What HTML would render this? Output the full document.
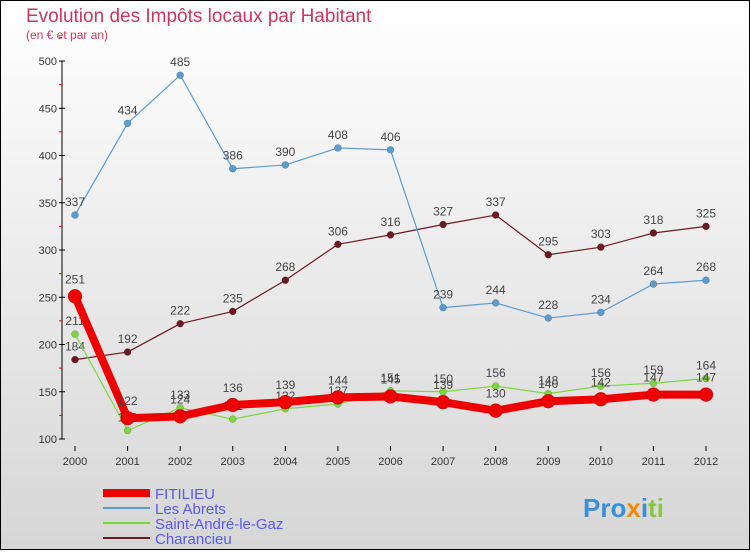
<!DOCTYPE html>
<html><head><meta charset="utf-8"><style>
html,body{margin:0;padding:0;}
body{width:750px;height:550px;overflow:hidden;font-family:"Liberation Sans",sans-serif;}
</style></head><body>
<svg id="chart" width="750" height="550" xmlns="http://www.w3.org/2000/svg">
<defs><linearGradient id="bg" x1="0" y1="0" x2="0" y2="1"><stop offset="0" stop-color="#ffffff"/><stop offset="1" stop-color="#d6d6d6"/></linearGradient></defs>
<rect x="0.5" y="0.5" width="749" height="549" fill="url(#bg)" stroke="#000" stroke-width="1"/>
<text x="26" y="22" font-size="19" fill="#c8385e">Evolution des Impôts locaux par Habitant</text>
<text x="26" y="39" font-size="12" fill="#c8385e">(en € et par an)</text>
<g id="axes"></g><g id="series"></g><g id="legend"></g>
</svg>
<script>
const years=["2000","2001","2002","2003","2004","2005","2006","2007","2008","2009","2010","2011","2012"];
const yTicks=[100,150,200,250,300,350,400,450,500];
const fitilieu=[251,122,124,136,139,144,145,139,130,140,142,147,147];
const lesAbrets=[337,434,485,386,390,408,406,239,244,228,234,264,268];
const saintAndre=[211,109,133,121,132,137,151,150,156,148,156,159,164];
const charancieu=[184,192,222,235,268,306,316,327,337,295,303,318,325];
const NS="http://www.w3.org/2000/svg";
function X(i){return 75+i*(706-75)/(years.length-1);}
function Y(v){return 439-(v-100)*(439-61)/400;}
function mk(tag,attrs,parent){const e=document.createElementNS(NS,tag);for(const k in attrs)e.setAttribute(k,attrs[k]);parent.appendChild(e);return e;}
const ax=document.getElementById('axes');
const yl=mk('line',{x1:62,y1:61,x2:62,y2:439,stroke:'#000','stroke-width':1},ax);


yTicks.forEach(v=>{
 const t=mk('text',{x:57,y:Y(v)+4,'font-size':11,fill:'#333','text-anchor':'end'},ax);
 
 
 t.textContent=v;
 mk('line',{x1:59,y1:Y(v),x2:65,y2:Y(v),stroke:'#000'},ax);
 mk('line',{x1:59,y1:Y(v+25),x2:62,y2:Y(v+25),stroke:'#e00'},ax);
});
years.forEach((y,i)=>{
 mk('line',{x1:X(i),y1:446,x2:X(i),y2:451,stroke:'#000'},ax);
 const t=mk('text',{x:X(i),y:465,'font-size':11,fill:'#333','text-anchor':'middle'},ax);
 
 
 t.textContent=y;
});
const sg=document.getElementById('series');
function draw(data,color,w,r,name,labelOff){
 const g=mk('g',{},sg);
 
 
 mk('polyline',{points:data.map((v,i)=>X(i)+','+Y(v)).join(' '),fill:'none',stroke:color,'stroke-width':w,'stroke-linejoin':'round'},g);
 data.forEach((v,i)=>{
  const c=mk('circle',{cx:X(i),cy:Y(v),r:r,fill:color,stroke:'rgba(0,0,0,0.3)','stroke-width':0.5},g);
  
  
  const t=mk('text',{x:X(i),y:Y(v)-labelOff,'font-size':12,fill:'#444','text-anchor':'middle'},g);
  
  
  t.textContent=v;
 });
}
draw(charancieu,'#6b1a22',1.2,3.5,'charancieu-series',9);
draw(lesAbrets,'#5b9bd0',1.2,3.5,'les-abrets-series',9);
draw(saintAndre,'#7dd640',1.2,3.5,'saint-andre-series',9);
draw(fitilieu,'#ee0000',8,7,'fitilieu-series',13);
const lg=document.getElementById('legend');
const items=[["FITILIEU","#ee0000",8],["Les Abrets","#5b9bd0",2],["Saint-André-le-Gaz","#7dd640",2],["Charancieu","#6b1a22",2]];
items.forEach((it,i)=>{
 const y=493+i*15;
 const g=mk('g',{},lg);
 
 
 mk('line',{x1:103,y1:y,x2:150,y2:y,stroke:it[1],'stroke-width':it[2]},g);
 const t=mk('text',{x:155,y:y+6,'font-size':15,fill:'#5a5ae6'},g);
 t.textContent=it[0];
});
const lo=mk('g',{},lg);


const lt=mk('text',{x:583,y:517,'font-size':26,'font-weight':'bold'},lo);
lt.innerHTML='<tspan fill="#3a8fd6">Pro</tspan><tspan fill="#f08a00">x</tspan><tspan fill="#3a8fd6">i</tspan><tspan fill="#8cc63f">ti</tspan>';
</script>
</body></html>
